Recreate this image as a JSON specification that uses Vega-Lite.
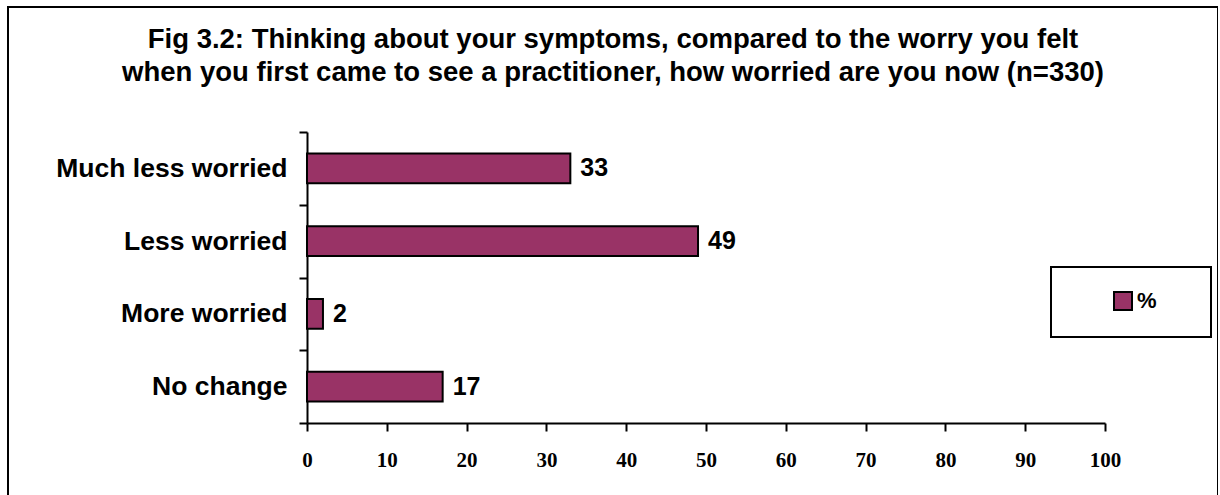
{
  "$schema": "https://vega.github.io/schema/vega-lite/v6.json",
  "autosize": {"type": "none"},
  "padding": {"left": 8, "top": 7, "right": 0, "bottom": 0},
  "width": 1210,
  "height": 489,
  "background": "white",
  "title": {
    "text": ["Fig 3.2: Thinking about your symptoms, compared to the worry you felt", "when you first came to see a practitioner, how worried are you now (n=330)"],
    "font": "Liberation Sans",
    "fontSize": 27.5,
    "fontWeight": "bold",
    "color": "black",
    "lineHeight": 33,
    "anchor": "middle",
    "offset": -92
  },
  "config": {
    "view": {"stroke": "black", "strokeWidth": 2},
    "axis": {"grid": false, "domainColor": "black", "domainWidth": 2, "tickColor": "black", "tickWidth": 2, "tickSize": 8, "title": null},
    "legend": {"strokeWidth": 2}
  },
  "data": {
    "values": [
      {"category": "Much less worried", "value": 33, "series": "%"},
      {"category": "Less worried", "value": 49, "series": "%"},
      {"category": "More worried", "value": 2, "series": "%"},
      {"category": "No change", "value": 17, "series": "%"}
    ]
  },
  "encoding": {
    "y": {
      "field": "category",
      "type": "nominal",
      "sort": ["Much less worried", "Less worried", "More worried", "No change"],
      "scale": {"range": [125, 416], "paddingInner": 0, "paddingOuter": 0},
      "axis": {"orient": "left", "offset": -299, "tickBand": "extent", "labelFont": "Liberation Sans", "labelFontSize": 26.5, "labelFontWeight": "bold", "labelColor": "black", "labelPadding": 12, "labelLimit": 400}
    },
    "x": {
      "field": "value",
      "type": "quantitative",
      "scale": {"domain": [0, 100], "range": [299, 1097], "nice": false},
      "axis": {"orient": "bottom", "offset": -73, "values": [0, 10, 20, 30, 40, 50, 60, 70, 80, 90, 100], "labelFont": "Liberation Serif", "labelFontSize": 21, "labelFontWeight": "bold", "labelColor": "black", "labelPadding": 18, "labelFlush": false}
    }
  },
  "layer": [
    {
      "mark": {"type": "bar", "stroke": "black", "strokeWidth": 2, "height": {"band": 0.41}},
      "encoding": {
        "fill": {
          "field": "series",
          "type": "nominal",
          "scale": {"range": ["#993366"]},
          "legend": {
            "title": "\u2002",
            "titleOrient": "right",
            "titlePadding": 31,
            "titleFontSize": 10,
            "orient": "none",
            "legendX": 1043,
            "legendY": 260,
            "strokeColor": "black",
            "padding": 23,
            "symbolType": "square",
            "symbolSize": 324,
            "symbolStrokeColor": "black",
            "symbolStrokeWidth": 2,
            "symbolOffset": 38,
            "labelFont": "Liberation Sans",
            "labelFontSize": 22,
            "labelFontWeight": "bold",
            "labelColor": "black",
            "labelOffset": 3
          }
        }
      }
    },
    {
      "mark": {"type": "text", "align": "left", "baseline": "middle", "dx": 10, "font": "Liberation Sans", "fontSize": 25, "fontWeight": "bold", "color": "black"},
      "encoding": {"text": {"field": "value", "type": "quantitative"}}
    }
  ]
}
